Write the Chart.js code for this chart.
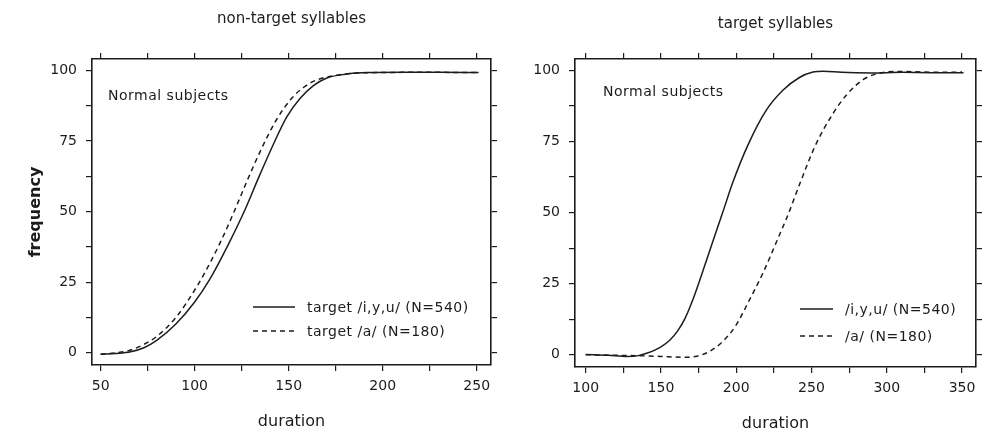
<!DOCTYPE html>
<html>
<head>
<meta charset="utf-8">
<script src="https://cdn.jsdelivr.net/npm/chart.js@4.4.1/dist/chart.umd.min.js"></script>
<style>
  body { margin: 0; background: #fff; }
  #wrap { position: relative; width: 989px; height: 435px; }
  .panel { position: absolute; top: 0; }
  #left { left: 0; }
  #right { left: 500px; }
</style>
</head>
<body>
<div id="wrap">
  <div class="panel" id="left"><canvas id="chartLeft" width="500" height="435"></canvas></div>
  <div class="panel" id="right"><canvas id="chartRight" width="489" height="435"></canvas></div>
</div>
<script>
// non-target syllables (left panel)
var leftIyuDur  = [50, 58, 66, 73, 80, 90, 100, 108, 118, 127, 134, 142, 149, 156, 163, 170, 180, 192, 210, 230, 251];
var leftIyuFreq = [-0.5, -0.2, 0.4, 1.8, 4.5, 10.2, 18, 26, 38.5, 51, 62, 74, 83.5, 90, 94.5, 97.2, 98.6, 99.2, 99.3, 99.3, 99.2];
var leftADur    = [50, 58, 66, 73, 80, 90, 101, 108, 115, 121, 127, 135, 143.5, 151.5, 158, 165, 175, 185, 200, 220, 251];
var leftAFreq   = [-0.5, 0, 1, 3, 5.9, 12.5, 23.3, 31.6, 41, 50, 59.5, 71.5, 82.5, 90, 94, 96.6, 98.2, 99, 99.2, 99.3, 99.2];

// target syllables (right panel)
var rightIyuDur  = [100, 115, 127, 135, 141, 149.5, 156, 161, 166, 172, 182, 191, 198, 208, 220, 231, 242, 251, 258, 270, 290, 310, 330, 351];
var rightIyuFreq = [0.1, -0.2, -0.6, -0.3, 0.6, 2.6, 5.2, 8.3, 12.8, 20.5, 36, 50, 61, 74, 86, 93, 97.5, 99.4, 99.7, 99.3, 99.1, 99.3, 99.2, 99.2];
var rightADur    = [100, 120, 140, 155, 165, 174, 183, 191.5, 200, 209, 218, 227, 235, 242.5, 252.5, 264.5, 273.5, 284.5, 295, 310, 325, 340, 350];
var rightAFreq   = [0, -0.2, -0.4, -0.7, -0.9, -0.5, 1.4, 4.9, 10.5, 19.5, 29, 40, 50, 60.5, 73.5, 85, 91.5, 96.8, 99, 99.6, 99.4, 99.3, 99.4];

var leftXTicks   = [50, 75, 100, 125, 150, 175, 200, 225, 250];
var leftXLabels  = [50, 100, 150, 200, 250];
var rightXTicks  = [100, 125, 150, 175, 200, 225, 250, 275, 300, 325, 350];
var rightXLabels = [100, 150, 200, 250, 300, 350];
var yTicks       = [0, 12.5, 25, 37.5, 50, 62.5, 75, 87.5, 100];
var yLabels      = [0, 25, 50, 75, 100];

var INK = '#1c1c1c';
var FONT = '"DejaVu Sans", "Liberation Sans", sans-serif';

function toPoints(xs, ys) {
    return xs.map(function(x, i) { return {x: x, y: ys[i]}; });
}

function setTicks(values) {
    return function(scale) {
        scale.ticks = values.map(function(v) { return {value: v}; });
    };
}

function labelIf(list) {
    return function(value) {
        return list.indexOf(value) >= 0 ? String(value) : '';
    };
}

var notesPlugin = {
    id: 'notes',
    afterDatasetsDraw: function(chart, args, opts) {
        var ctx = chart.ctx;
        var area = chart.chartArea;
        ctx.save();
        ctx.font = '14px ' + FONT;
        ctx.fillStyle = INK;
        ctx.textBaseline = 'middle';
        ctx.letterSpacing = opts.spacing;
        ctx.fillText(opts.note, area.left + opts.noteX, area.top + opts.noteY);
        chart.data.datasets.forEach(function(ds, i) {
            var y = area.top + opts.legendY + i * opts.rowGap;
            var x0 = area.left + opts.legendX;
            ctx.beginPath();
            ctx.setLineDash(ds.borderDash || []);
            ctx.lineWidth = ds.borderWidth;
            ctx.strokeStyle = ds.borderColor;
            ctx.moveTo(x0, y);
            ctx.lineTo(x0 + opts.lineLen, y);
            ctx.stroke();
            ctx.setLineDash([]);
            ctx.fillText(ds.label, x0 + opts.lineLen + opts.textGap, y + 1);
        });
        ctx.restore();
    }
};

function makePanel(canvasId, p) {
    var tickFont = {family: FONT, size: 14};
    var grid = {drawOnChartArea: false, drawTicks: true, tickLength: 6, color: INK, lineWidth: 1.2};
    var border = {display: true, color: INK, width: 1.6};

    return new Chart(document.getElementById(canvasId), {
        type: 'line',
        data: {
            datasets: [{
                label: p.labels[0],
                data: toPoints(p.iyuDur, p.iyuFreq),
                borderColor: INK,
                borderWidth: 1.5,
                pointRadius: 0,
                cubicInterpolationMode: 'monotone',
                fill: false
            }, {
                label: p.labels[1],
                data: toPoints(p.aDur, p.aFreq),
                borderColor: INK,
                borderWidth: 1.5,
                borderDash: [5, 4],
                pointRadius: 0,
                cubicInterpolationMode: 'monotone',
                fill: false
            }]
        },
        options: {
            responsive: false,
            animation: false,
            layout: {padding: 0},
            scales: {
                x: {
                    type: 'linear', position: 'bottom',
                    min: p.xMin, max: p.xMax,
                    afterBuildTicks: setTicks(p.xTicks),
                    afterFit: function(s) { s.height = p.bottomH; },
                    ticks: {callback: labelIf(p.xLabels), autoSkip: false, maxRotation: 0,
                            padding: 7, font: tickFont, color: INK},
                    grid: grid, border: border,
                    title: {display: true, text: 'duration', color: INK,
                            font: {family: FONT, size: 16}, padding: {top: 0, bottom: p.durPad}}
                },
                xTop: {
                    type: 'linear', position: 'top',
                    min: p.xMin, max: p.xMax,
                    afterBuildTicks: setTicks(p.xTicks),
                    afterFit: function(s) { s.height = 8; },
                    ticks: {display: false},
                    grid: grid, border: border
                },
                y: {
                    type: 'linear', position: 'left',
                    min: -4.3, max: 104,
                    afterBuildTicks: setTicks(yTicks),
                    afterFit: function(s) { s.width = p.leftW; },
                    ticks: {callback: labelIf(yLabels), autoSkip: false, padding: 9, font: tickFont, color: INK},
                    grid: grid, border: border,
                    title: {display: !!p.yTitle, text: p.yTitle || '', color: INK,
                            font: {family: FONT, size: 16, weight: 'bold'}, padding: 26}
                },
                yRight: {
                    type: 'linear', position: 'right',
                    min: -4.3, max: 104,
                    afterBuildTicks: setTicks(yTicks),
                    afterFit: function(s) { s.width = p.rightW; },
                    ticks: {display: false},
                    grid: grid, border: border
                }
            },
            plugins: {
                legend: {display: false},
                tooltip: {enabled: false},
                title: {display: true, text: p.title, fullSize: false, color: INK,
                        font: {family: FONT, size: 15, weight: 'normal'},
                        padding: {top: p.titleTop, bottom: 51 - p.titleTop - 18}},
                notes: p.notes
            }
        },
        plugins: [notesPlugin]
    });
}

makePanel('chartLeft', {
    title: 'non-target syllables',
    yTitle: 'frequency',
    labels: ['target /i,y,u/ (N=540)', 'target /a/ (N=180)'],
    iyuDur: leftIyuDur, iyuFreq: leftIyuFreq, aDur: leftADur, aFreq: leftAFreq,
    xMin: 45.4, xMax: 257.6, xTicks: leftXTicks, xLabels: leftXLabels,
    leftW: 92, rightW: 9, bottomH: 70, durPad: 4, titleTop: 10,
    notes: {note: 'Normal subjects', noteX: 16, noteY: 37, spacing: '0.5px',
            legendX: 161, legendY: 248, rowGap: 24, lineLen: 42, textGap: 12}
});

makePanel('chartRight', {
    title: 'target syllables',
    yTitle: null,
    labels: ['/i,y,u/ (N=540)', '/a/ (N=180)'],
    iyuDur: rightIyuDur, iyuFreq: rightIyuFreq, aDur: rightADur, aFreq: rightAFreq,
    xMin: 92.9, xMax: 359.3, xTicks: rightXTicks, xLabels: rightXLabels,
    leftW: 75, rightW: 13, bottomH: 68, durPad: 2, titleTop: 15,
    notes: {note: 'Normal subjects', noteX: 28, noteY: 33, spacing: '0.5px',
            legendX: 225, legendY: 250, rowGap: 27, lineLen: 33, textGap: 12}
});
</script>
</body>
</html>
